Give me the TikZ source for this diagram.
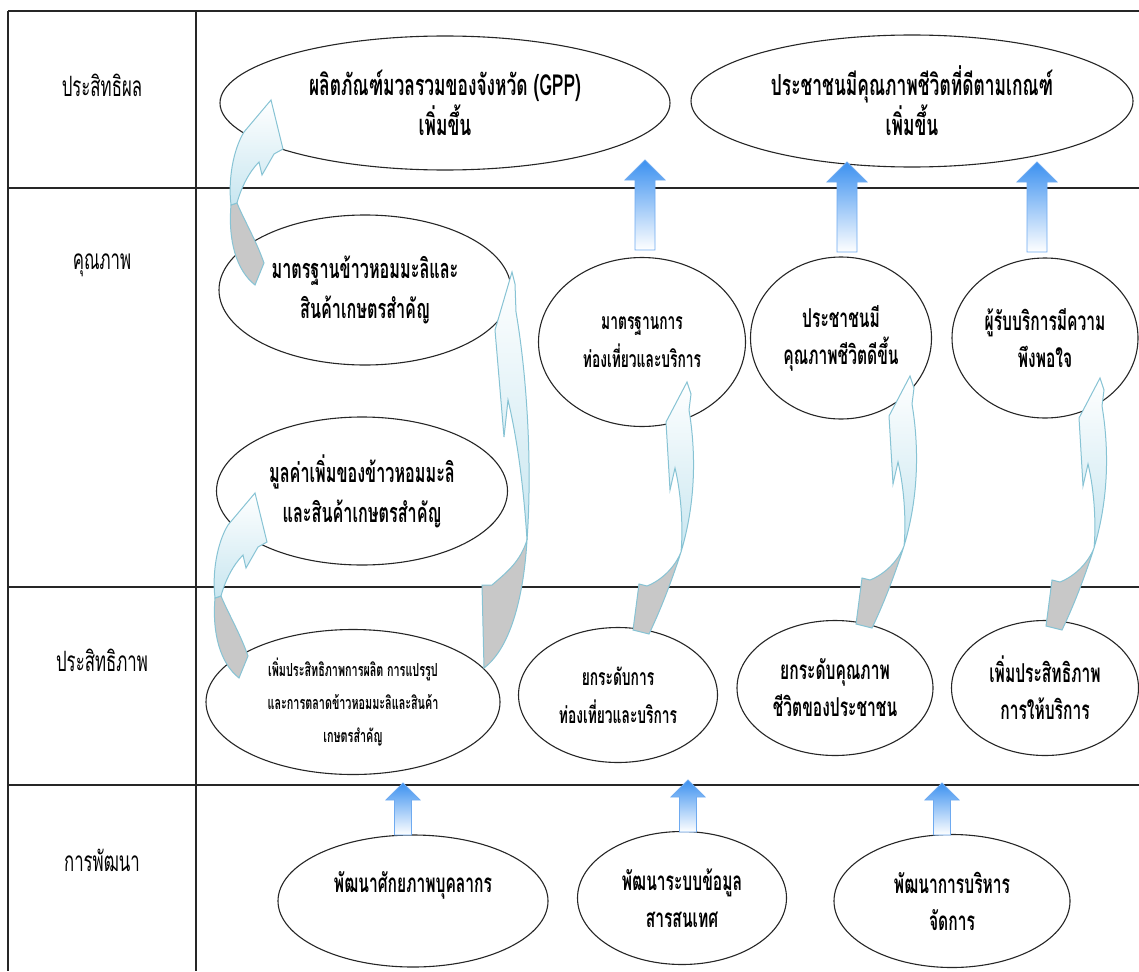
\documentclass[tikz,border=0pt]{standalone}
\usepackage{fontspec}
\newfontfamily\thaifont[Script=Thai,FakeStretch=0.6]{Loma}
\usetikzlibrary{shapes.geometric}
\definecolor{arrowblue}{RGB}{60,145,240}
\definecolor{arrowedge}{RGB}{110,170,240}
\definecolor{ribbonedge}{RGB}{135,195,212}
\definecolor{ribbonfill}{RGB}{200,230,240}
\definecolor{ribbongray}{RGB}{200,200,200}
\tikzset{
  tabline/.style={draw=black!85,line width=1.6pt},
  bubble/.style={ellipse,draw=black!85,line width=1.1pt,fill=white,align=center,inner sep=0pt,
    font=\thaifont\bfseries\fontsize{27}{40}\selectfont},
  bigtext/.style={font=\thaifont\bfseries\fontsize{29}{40}\selectfont},
  midtext/.style={font=\thaifont\bfseries\fontsize{26}{37}\selectfont},
  tourtext/.style={font=\thaifont\bfseries\fontsize{23}{38}\selectfont},
  tinytext/.style={font=\thaifont\bfseries\fontsize{18}{33}\selectfont},
  rowlabel/.style={font=\thaifont\fontsize{28}{30}\selectfont},
  blockarrow/.style={draw=arrowedge,line width=0.8pt,top color=arrowblue,bottom color=white},
  ribbonfront/.style={draw=ribbonedge,line width=1pt,top color=white,bottom color=ribbonfill},
  ribbonback/.style={draw=ribbonedge,line width=1pt,fill=ribbongray},
  pics/uparrow/.style n args={2}{code={
    \path[blockarrow] (0,0) -- ({2*#1},{2*#1}) -- (#1,{2*#1}) -- (#1,#2) -- (-#1,#2)
      -- (-#1,{2*#1}) -- ({-2*#1},{2*#1}) -- cycle;
  }},
  pics/hookarrow/.style={code={
    \path[ribbonback] (-40,105) .. controls (-43,140) and (-35,170) .. (-16,185) -- (-7,163)
      .. controls (-15,140) and (-27,120) .. (-34,103) -- cycle;
    \path[ribbonfront] (0,0) -- (12,49) -- (3,54) -- (-9,75) -- (-12,62)
      .. controls (-22,72) and (-30,88) .. (-34,103) -- (-40,105)
      .. controls (-43,80) and (-38,50) .. (-27,32) -- cycle;
  }},
  pics/longarrow/.style={code={
    \path[ribbonback] (-6,170) .. controls (-14,195) and (-25,225) .. (-38,252) -- (-54,248)
      -- (-48,202) -- (-40,204) .. controls (-25,198) and (-12,185) .. (-6,170) -- cycle;
    \path[ribbonfront] (0,0) -- (4,12) -- (2,28) .. controls (9,70) and (9,120) .. (-6,170)
      .. controls (-4,150) and (-5,115) .. (-12,86) -- (-17,108) -- (-21,40) -- cycle;
  }},
}
\begin{document}
\begin{tikzpicture}[x=1pt,y=-1pt]
\useasboundingbox (0,0) rectangle (1139,971);
%% table
\draw[tabline] (8,11) -- (1139,11);
\draw[tabline] (8,188) -- (1139,188);
\draw[tabline] (8,587) -- (1139,587);
\draw[tabline] (8,785) -- (1139,785);
\draw[tabline] (8,11) -- (8,971);
\draw[tabline] (196,11) -- (196,971);
%% row labels
\node (lbleffect) at (102,85) [rowlabel] {ประสิทธิผล};
\node (lblquality) at (102,265) [rowlabel] {คุณภาพ};
\node (lblefficiency) at (102,660) [rowlabel] {ประสิทธิภาพ};
\node (lbldev) at (102,860) [rowlabel] {การพัฒนา};
%% outcome row
\node (gpp) at (445,103) [bubble,bigtext,minimum width=450pt,minimum height=134pt] {ผลิตภัณฑ์มวลรวมของจังหวัด (GPP)\\เพิ่มขึ้น};
\node (qol) at (912,101) [bubble,bigtext,minimum width=442pt,minimum height=132pt] {ประชาชนมีคุณภาพชีวิตที่ดีตามเกณฑ์\\เพิ่มขึ้น};
%% quality row
\node (ricestd) at (365,290) [bubble,minimum width=292pt,minimum height=150pt] {มาตรฐานข้าวหอมมะลิและ\\สินค้าเกษตรสำคัญ};
\node (ricevalue) at (362,491) [bubble,minimum width=291pt,minimum height=148pt] {มูลค่าเพิ่มของข้าวหอมมะลิ\\และสินค้าเกษตรสำคัญ};
\node (tourstd) at (642,342) [bubble,tourtext,minimum width=207pt,minimum height=169pt] {มาตรฐานการ\\ท่องเที่ยวและบริการ};
\node (lifeq) at (841,338) [bubble,midtext,minimum width=181pt,minimum height=162pt] {ประชาชนมี\\คุณภาพชีวิตดีขึ้น};
\node (satisf) at (1045,338) [bubble,midtext,minimum width=186pt,minimum height=160pt] {ผู้รับบริการมีความ\\พึงพอใจ};
%% efficiency row
\node (prodeff) at (353,702) [bubble,tinytext,minimum width=294pt,minimum height=145pt] {เพิ่มประสิทธิภาพการผลิต การแปรรูป\\และการตลาดข้าวหอมมะลิและสินค้า\\เกษตรสำคัญ};
\node (tourup) at (618,695) [bubble,tourtext,minimum width=199pt,minimum height=135pt] {ยกระดับการ\\ท่องเที่ยวและบริการ};
\node (lifeup) at (835,688) [bubble,midtext,minimum width=196pt,minimum height=135pt] {ยกระดับคุณภาพ\\ชีวิตของประชาชน};
\node (serveff) at (1045,688) [bubble,midtext,minimum width=187pt,minimum height=135pt] {เพิ่มประสิทธิภาพ\\การให้บริการ};
%% development row
\node (staff) at (413,901) [bubble,midtext,minimum width=270pt,minimum height=132pt] {พัฒนาศักยภาพบุคลากร\\\mbox{}};
\node (infosys) at (682,898) [bubble,midtext,minimum width=209pt,minimum height=133pt] {พัฒนาระบบข้อมูล\\สารสนเทศ};
\node (manage) at (952,901) [bubble,midtext,minimum width=236pt,minimum height=133pt] {พัฒนาการบริหาร\\จัดการ};
%% block arrows
\pic at (645,160) {uparrow={10}{90}};
\pic at (847,162) {uparrow={10}{90}};
\pic at (1037,162) {uparrow={10}{90}};
\pic at (403,783) {uparrow={8.5}{52}};
\pic at (688,780) {uparrow={8.5}{52}};
\pic at (942,783) {uparrow={8.5}{52}};
%% curved arrows
\pic at (271,100) {hookarrow};
\pic at (255,493) {hookarrow};
\begin{scope}[shift={(512,272)}]
  \path[ribbonback] (15,268) .. controls (12,320) and (0,375) .. (-28,396) -- (-30,313)
    -- (-20,313) .. controls (-5,300) and (8,290) .. (15,268) -- cycle;
  \path[ribbonfront] (0,0) -- (3,12) -- (4,40) .. controls (16,110) and (20,200) .. (15,268)
    .. controls (12,220) and (6,170) .. (-4,128) -- (-8,165) -- (-17,58) -- cycle;
\end{scope}
\pic at (687,382) {longarrow};
\pic at (910,376) {longarrow};
\pic at (1100,378) {longarrow};
%
\end{tikzpicture}
\end{document}
